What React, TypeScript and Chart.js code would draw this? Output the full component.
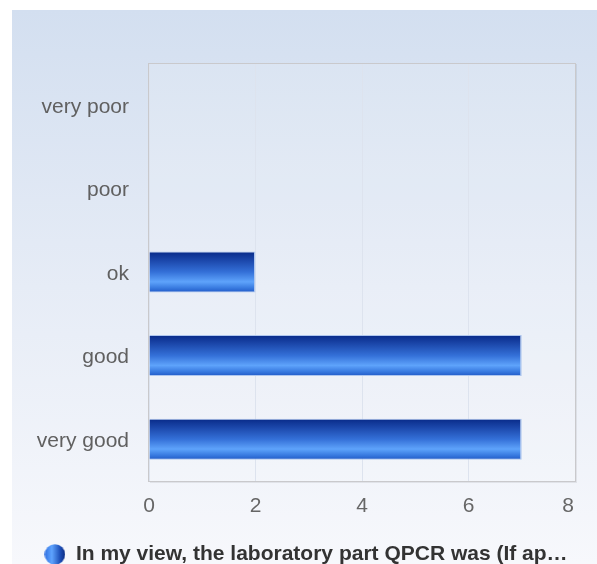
import React, { useEffect, useRef } from "react";
import { Chart, registerables } from "chart.js";

Chart.register(...registerables);

const categories: string[] = ["very poor", "poor", "ok", "good", "very good"];
const seriesValues: number[] = [0, 0, 2, 7, 7];
const seriesLabel = "In my view, the laboratory part QPCR was (If ap…";
const xTicks: number[] = [0, 2, 4, 6, 8];

const BAR_PCT = 0.49;

function makeLegendDot(): HTMLCanvasElement {
  const c = document.createElement("canvas");
  c.width = 21;
  c.height = 21;
  const ctx = c.getContext("2d")!;
  const g = ctx.createLinearGradient(0, 0, 21, 0);
  g.addColorStop(0, "#2f6fe0");
  g.addColorStop(0.35, "#5fa4ff");
  g.addColorStop(0.75, "#1d4fb8");
  g.addColorStop(1, "#0b2a80");
  ctx.fillStyle = g;
  ctx.beginPath();
  ctx.arc(10.5, 10.5, 10.3, 0, Math.PI * 2);
  ctx.fill();
  return c;
}

const panelPlugin = {
  id: "panelBg",
  beforeDraw(chart: any) {
    const { ctx, width, height, chartArea } = chart;
    const lg = chart.legend;
    if (lg) {
      const w = lg.right - lg.left;
      lg.left = 306 - w / 2;
      lg.right = lg.left + w;
    }
    const xs = chart.scales && chart.scales.x;
    if (xs && chartArea) {
      const items = xs.getLabelItems(chartArea);
      const last = items && items[items.length - 1];
      if (last && last.options && last.options.translation && !last.__moved) {
        last.options.translation[0] -= 7;
        last.__moved = true;
      }
    }
    ctx.save();
    const g = ctx.createLinearGradient(0, 10, 0, height);
    g.addColorStop(0, "#d3dff0");
    g.addColorStop(0.5, "#e6ecf6");
    g.addColorStop(1, "#f7f8fc");
    ctx.fillStyle = g;
    ctx.fillRect(12, 10, width - 12, height - 10);
    if (chartArea) {
      ctx.fillStyle = "rgba(255,255,255,0.12)";
      ctx.fillRect(chartArea.left, chartArea.top, chartArea.right - chartArea.left, chartArea.bottom - chartArea.top);
    }
    ctx.restore();
  },
  beforeDatasetsDraw(chart: any) {
    const { ctx, chartArea } = chart;
    const { left, top, right, bottom } = chartArea;
    ctx.save();
    ctx.strokeStyle = "rgba(0,0,0,0.07)";
    ctx.lineWidth = 1;
    ctx.beginPath();
    ctx.moveTo(right + 1.5, top + 1);
    ctx.lineTo(right + 1.5, bottom + 1.5);
    ctx.lineTo(left + 1, bottom + 1.5);
    ctx.stroke();
    ctx.strokeStyle = "#c9c9cc";
    ctx.lineWidth = 1;
    ctx.strokeRect(left - 0.5, top + 0.5, right - left + 1, bottom - top);
    ctx.restore();
  },
};

export default function App() {
  const ref = useRef<HTMLCanvasElement | null>(null);

  useEffect(() => {
    if (!ref.current) return;
    Chart.defaults.font.family = "'Liberation Sans', Arial, sans-serif";
    const dot = makeLegendDot();
    const chart = new Chart(ref.current, {
      type: "bar",
      data: {
        labels: categories,
        datasets: [
          {
            label: seriesLabel,
            data: seriesValues,
            backgroundColor: (c: any) => {
              const ch = c.chart;
              const ys = ch.scales && ch.scales.y;
              const area = ch.chartArea;
              if (!ys || !area || c.dataIndex === undefined) return "#2a64cc";
              const center = ys.getPixelForValue(c.dataIndex);
              const half = ((area.bottom - area.top) / categories.length) * BAR_PCT / 2;
              const g = ch.ctx.createLinearGradient(0, center - half, 0, center + half);
              g.addColorStop(0, "#082a88");
              g.addColorStop(0.2, "#1a45a8");
              g.addColorStop(0.5, "#3470d8");
              g.addColorStop(0.74, "#5ea3fb");
              g.addColorStop(0.88, "#3b7de2");
              g.addColorStop(1, "#2059c6");
              return g;
            },
            borderColor: "#aec6ee",
            borderWidth: { top: 1, bottom: 1, right: 1.5, left: 0 },
            borderSkipped: "start",
            categoryPercentage: 1,
            barPercentage: BAR_PCT,
          },
        ],
      },
      options: {
        indexAxis: "y",
        responsive: false,
        animation: false,
        maintainAspectRatio: false,
        layout: { padding: { left: 12, top: 63, right: 22, bottom: -11 } },
        scales: {
          x: {
            min: 0,
            max: 8,
            afterFit: (s: any) => {
              s.height = 62;
            },
            afterBuildTicks: (s: any) => {
              s.ticks = xTicks.map((v) => ({ value: v }));
            },
            grid: { color: "#dde3ee", lineWidth: 1, drawTicks: false },
            border: { display: false },
            ticks: { color: "#666666", font: { size: 21 }, padding: 13 },
          },
          y: {
            afterFit: (s: any) => {
              s.width = 137;
            },
            grid: { display: false, drawTicks: false },
            border: { display: false },
            ticks: { color: "#606060", font: { size: 21 }, padding: 20, labelOffset: 2 },
          },
        },
        plugins: {
          tooltip: { enabled: false },
          legend: {
            position: "bottom",
            labels: {
              usePointStyle: true,
              pointStyle: dot,
              color: "#333333",
              font: { size: 21, weight: "bold" },
              padding: 1,
            },
          },
        },
      },
      plugins: [panelPlugin],
    } as any);
    return () => chart.destroy();
  }, []);

  return (
    <div style={{ position: "absolute", left: 0, top: 0, width: 597, height: 564 }}>
      <canvas ref={ref} width={597} height={564} style={{ display: "block" }} />
    </div>
  );
}
